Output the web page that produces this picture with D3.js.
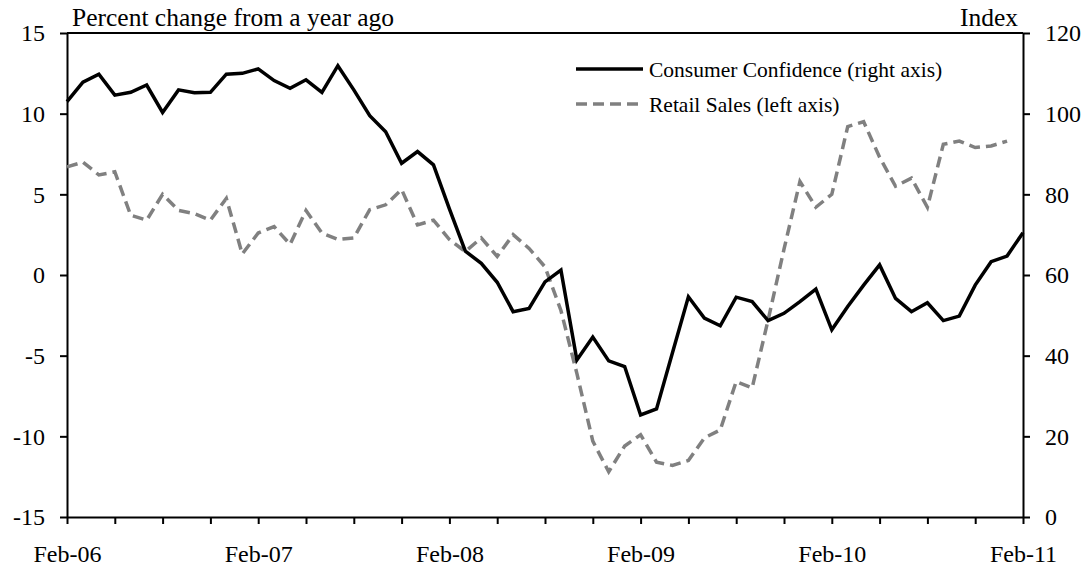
<!DOCTYPE html>
<html>
<head>
<meta charset="utf-8">
<script src="https://cdn.jsdelivr.net/npm/d3@7"></script>
<style>
  body { margin: 0; background: #fff; }
  svg { display: block; font-family: "Liberation Serif", "Times New Roman", serif; }
</style>
</head>
<body>
<svg width="1091" height="571"></svg>
<script>
// Consumer confidence index, monthly Feb-06 .. Feb-11 (right axis)
var confidence = [
  103.0, 107.8, 109.8, 104.6, 105.3, 107.1, 100.3, 105.9, 105.2, 105.3, 109.8, 110.0,
  111.1, 108.2, 106.3, 108.4, 105.3, 111.9, 105.9, 99.5, 95.5, 87.7, 90.6, 87.3,
  76.4, 65.9, 62.9, 58.2, 50.9, 51.7, 58.3, 61.2, 38.9, 44.6, 38.7, 37.3,
  25.3, 26.8, 40.7, 54.6, 49.3, 47.4, 54.5, 53.4, 48.7, 50.5, 53.4, 56.5,
  46.4, 52.2, 57.5, 62.5, 54.2, 50.9, 53.1, 48.7, 49.8, 57.5, 63.3, 64.7,
  70.5
];
// Retail sales, percent change from a year ago, Feb-06 .. Jan-11 (left axis)
var retail = [
  6.7, 7.0, 6.2, 6.4, 3.7, 3.4, 5.0, 4.0, 3.8, 3.4, 4.75, 1.3,
  2.6, 3.0, 1.9, 4.0, 2.6, 2.2, 2.3, 4.05, 4.35, 5.3, 3.1, 3.4,
  2.2, 1.45, 2.3, 1.15, 2.5, 1.65, 0.5, -2.2, -6.1, -10.3, -12.2, -10.6,
  -9.9, -11.6, -11.8, -11.5, -10.1, -9.6, -6.6, -7.0, -2.8, 1.6, 5.8, 4.2,
  5.0, 9.2, 9.5, 7.3, 5.5, 6.0, 4.2, 8.1, 8.3, 7.9, 8.0, 8.3
];
var yearLabels = ["Feb-06", "Feb-07", "Feb-08", "Feb-09", "Feb-10", "Feb-11"];
var leftTicks = [-15, -10, -5, 0, 5, 10, 15];
var rightTicks = [0, 20, 40, 60, 80, 100, 120];
var seriesNames = ["Consumer Confidence (right axis)", "Retail Sales (left axis)"];

var svg = d3.select("svg"),
    margin = {top: 33, right: 68, bottom: 54, left: 67},
    width = +svg.attr("width") - margin.left - margin.right,
    height = +svg.attr("height") - margin.top - margin.bottom;

var g = svg.append("g")
    .attr("transform", "translate(" + margin.left + "," + margin.top + ")");

var x = d3.scaleLinear().domain([0, confidence.length - 1]).range([0, width]),
    yL = d3.scaleLinear().domain([-15, 15]).range([height, 0]),
    yR = d3.scaleLinear().domain([0, 120]).range([height, 0]);

var xAxis = d3.axisBottom(x)
    .tickValues(d3.range(0, confidence.length, 3))
    .tickSize(7).tickSizeOuter(0).tickPadding(21)
    .tickFormat(function(i) { return i % 12 === 0 ? yearLabels[i / 12] : ""; });

// plain hyphen for negatives, like the original
var leftAxis = d3.axisLeft(yL).tickValues(leftTicks)
    .tickSize(7).tickSizeOuter(0).tickPadding(15)
    .tickFormat(function(d) { return String(d); });
var rightAxis = d3.axisRight(yR).tickValues(rightTicks)
    .tickSize(7).tickSizeOuter(0).tickPadding(15);

// top border
g.append("line")
    .attr("x1", 0).attr("x2", width).attr("y1", 0).attr("y2", 0)
    .attr("stroke", "#000").attr("stroke-width", 2);

function styleAxis(sel) {
  sel.selectAll("path, line").attr("stroke", "#000").attr("stroke-width", 2);
  sel.selectAll("text").attr("fill", "#000").style("font-size", "24px")
    .style("font-family", "'Liberation Serif', 'Times New Roman', serif");
}

g.append("g").attr("transform", "translate(0," + height + ")").call(xAxis).call(styleAxis);
g.append("g").call(leftAxis).call(styleAxis);
g.append("g").attr("transform", "translate(" + width + ",0)").call(rightAxis).call(styleAxis);

// axis titles
svg.append("text").attr("x", 72).attr("y", 26)
    .style("font-size", "25.5px").text("Percent change from a year ago");
svg.append("text").attr("x", 1018).attr("y", 26).attr("text-anchor", "end")
    .style("font-size", "25.5px").text("Index");

var lineR = d3.line()
    .x(function(d, i) { return x(i); })
    .y(function(d) { return yR(d); });
var lineL = d3.line()
    .x(function(d, i) { return x(i); })
    .y(function(d) { return yL(d); });

g.append("path")
    .datum(retail)
    .attr("fill", "none")
    .attr("stroke", "#808080")
    .attr("stroke-width", 3.5)
    .attr("stroke-dasharray", "11,6")
    .attr("d", lineL);

g.append("path")
    .datum(confidence)
    .attr("fill", "none")
    .attr("stroke", "#000")
    .attr("stroke-width", 3.5)
    .attr("d", lineR);

// legend
var legend = svg.append("g").attr("transform", "translate(576,69)");
var styles = [{stroke: "#000", dash: null}, {stroke: "#808080", dash: "11,6"}];
seriesNames.forEach(function(name, k) {
  var row = legend.append("g").attr("transform", "translate(0," + (k * 35) + ")");
  row.append("line")
      .attr("x1", 0).attr("x2", 67).attr("y1", 0).attr("y2", 0)
      .attr("stroke", styles[k].stroke).attr("stroke-width", 3.5)
      .attr("stroke-dasharray", styles[k].dash);
  row.append("text").attr("x", 73).attr("y", 7.5)
      .style("font-size", "21.5px").text(name);
});
</script>
</body>
</html>
